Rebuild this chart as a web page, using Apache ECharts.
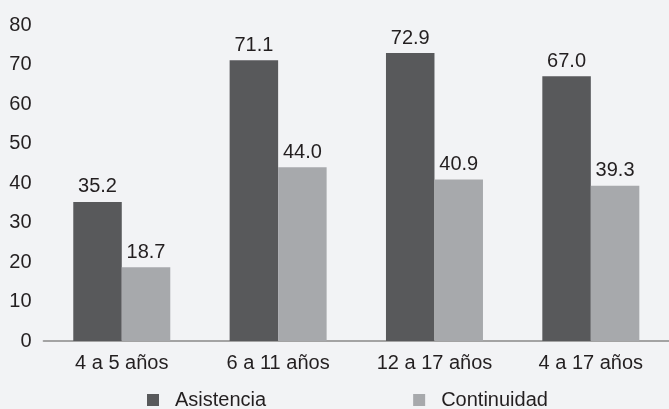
<!DOCTYPE html>
<html><head><meta charset="utf-8">
<script src="https://cdn.jsdelivr.net/npm/echarts@6/dist/echarts.min.js"></script>
<style>html,body{margin:0;padding:0;background:#f2f3f5}#c{width:669px;height:409px}</style>
</head><body><div id="c"></div>
<script>
const categories = ['4 a 5 años', '6 a 11 años', '12 a 17 años', '4 a 17 años'];
const asistencia = [35.2, 71.1, 72.9, 67.0];
const continuidad = [18.7, 44.0, 40.9, 39.3];
const yTicks = [0, 10, 20, 30, 40, 50, 60, 70, 80];

const FONT = '"Liberation Sans", Arial, sans-serif';
const chart = echarts.init(document.getElementById('c'), null, {renderer: 'canvas'});
const lbl = {show: true, position: 'top', distance: 5, color: '#231f20', fontFamily: FONT, fontSize: 20,
  formatter: p => p.value.toFixed(1)};
chart.setOption({
  backgroundColor: '#f2f3f5',
  animation: false,
  textStyle: {fontFamily: FONT},
  grid: {left: 43.6, right: -9.9, top: 25, bottom: 68, containLabel: false},
  legend: {
    left: 147, top: 390, padding: 0, itemWidth: 12, itemHeight: 12, itemGap: 147,
    icon: 'rect',
    textStyle: {color: '#231f20', fontFamily: FONT, fontSize: 20, padding: [0, 0, 0, 11]},
    data: ['Asistencia', 'Continuidad']
  },
  xAxis: {
    type: 'category', data: categories,
    axisLine: {lineStyle: {color: '#a3a3a3', width: 2}},
    axisTick: {show: false},
    axisLabel: {color: '#231f20', fontFamily: FONT, fontSize: 20, margin: 12, interval: 0}
  },
  yAxis: {
    type: 'value', min: yTicks[0], max: yTicks[yTicks.length - 1], interval: 10,
    axisLine: {show: false}, axisTick: {show: false}, splitLine: {show: false},
    axisLabel: {color: '#231f20', fontFamily: FONT, fontSize: 20, margin: 12}
  },
  series: [
    {name: 'Asistencia', type: 'bar', data: asistencia, barWidth: 48.5, barGap: '0%',
      itemStyle: {color: '#58595b'}, label: lbl},
    {name: 'Continuidad', type: 'bar', data: continuidad, barWidth: 48.5, barGap: '0%',
      itemStyle: {color: '#a7a9ac'}, label: lbl}
  ]
});
</script></body></html>
